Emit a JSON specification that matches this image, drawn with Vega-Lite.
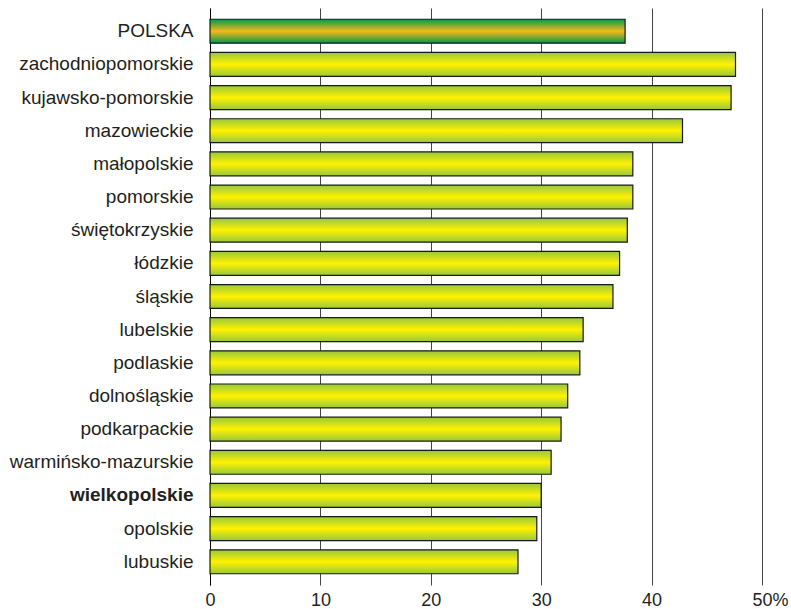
{
  "$schema": "https://vega.github.io/schema/vega-lite/v6.json",
  "width": 552,
  "height": 577,
  "autosize": {"type": "none"},
  "padding": {"left": 210, "top": 8, "right": 29, "bottom": 24},
  "config": {"view": {"stroke": null}, "font": "Liberation Sans"},
  "data": {
    "values": [
      {"region": "POLSKA", "value": 37.6},
      {"region": "zachodniopomorskie", "value": 47.6},
      {"region": "kujawsko-pomorskie", "value": 47.2},
      {"region": "mazowieckie", "value": 42.8},
      {"region": "małopolskie", "value": 38.3},
      {"region": "pomorskie", "value": 38.3},
      {"region": "świętokrzyskie", "value": 37.8},
      {"region": "łódzkie", "value": 37.1},
      {"region": "śląskie", "value": 36.5},
      {"region": "lubelskie", "value": 33.8},
      {"region": "podlaskie", "value": 33.5},
      {"region": "dolnośląskie", "value": 32.4},
      {"region": "podkarpackie", "value": 31.8},
      {"region": "warmińsko-mazurskie", "value": 30.9},
      {"region": "wielkopolskie", "value": 30.0},
      {"region": "opolskie", "value": 29.6},
      {"region": "lubuskie", "value": 27.9}
    ]
  },
  "mark": {"type": "bar", "stroke": "#1a1a1a", "strokeWidth": 1.2},
  "encoding": {
    "y": {
      "field": "region",
      "type": "nominal",
      "sort": null,
      "scale": {"paddingInner": 0.278, "paddingOuter": 0.34},
      "axis": {
        "title": null,
        "domainColor": "#000000",
        "domainWidth": 1,
        "ticks": false,
        "labelFontSize": 19,
        "labelLimit": 0,
        "labelColor": "#231f20",
        "labelPadding": 17,
        "labelFontWeight": {"condition": {"test": "datum.value === 'wielkopolskie'", "value": "bold"}, "value": "normal"}
      }
    },
    "x": {
      "field": "value",
      "type": "quantitative",
      "scale": {"domain": [0, 50], "nice": false},
      "axis": {
        "title": null,
        "values": [0, 10, 20, 30, 40, 50],
        "domain": false,
        "ticks": false,
        "grid": true,
        "gridColor": "#444444",
        "gridOpacity": 1,
        "gridWidth": 1,
        "labelFontSize": 18,
        "labelColor": "#231f20",
        "labelPadding": 6,
        "labelExpr": "datum.value == 50 ? '50%' : datum.label",
        "labelAlign": {"condition": {"test": "datum.value == 50", "value": "left"}, "value": "center"},
        "labelOffset": {"condition": {"test": "datum.value == 50", "value": -10}, "value": 0}
      }
    },
    "fill": {
      "condition": {
        "test": "datum.region === 'POLSKA'",
        "value": {
          "gradient": "linear", "x1": 0, "y1": 0, "x2": 0, "y2": 1,
          "stops": [
            {"offset": 0, "color": "#009a4c"},
            {"offset": 0.5, "color": "#f7b81a"},
            {"offset": 1, "color": "#009a4c"}
          ]
        }
      },
      "value": {
        "gradient": "linear", "x1": 0, "y1": 0, "x2": 0, "y2": 1,
        "stops": [
          {"offset": 0, "color": "#98c83c"},
          {"offset": 0.5, "color": "#fff200"},
          {"offset": 1, "color": "#98c83c"}
        ]
      }
    }
  }
}
